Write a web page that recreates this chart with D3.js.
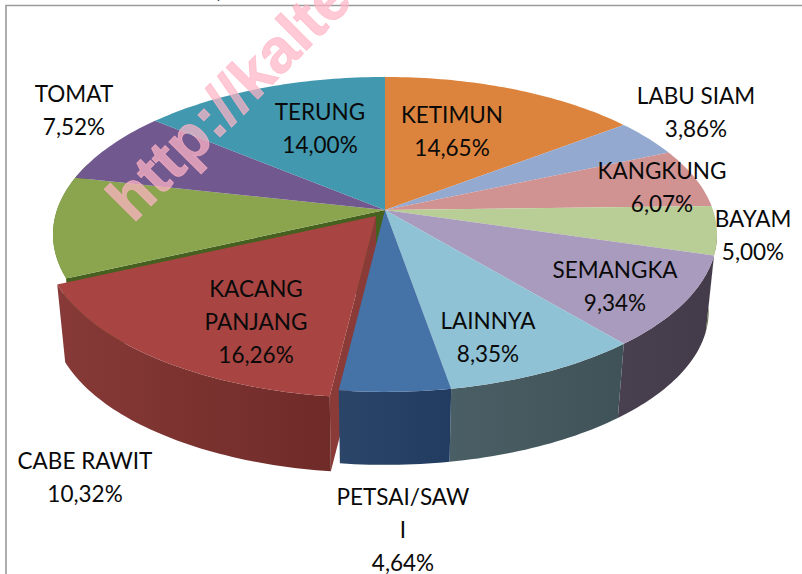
<!DOCTYPE html>
<html>
<head>
<meta charset="utf-8">
<script src="https://cdn.jsdelivr.net/npm/d3@7"></script>
<style>
  html, body { margin: 0; padding: 0; background: #fff; overflow: hidden; }
  svg { display: block; }
  .lbl { font-family: Lato, sans-serif; font-size: 22.5px; fill: #0a0a0a; text-anchor: middle; }
</style>
</head>
<body>
<div id="chart"></div>
<script>
var categories = ["KETIMUN", "LABU SIAM", "KANGKUNG", "BAYAM", "SEMANGKA", "LAINNYA", "PETSAI/SAW\nI", "KACANG\nPANJANG", "CABE RAWIT", "TOMAT", "TERUNG"];
var shares = [14.65, 3.86, 6.07, 5.00, 9.34, 8.35, 4.64, 16.26, 10.32, 7.52, 14.00];
var topColors = ["#dc843d", "#93a9cf", "#d19392", "#b9cd96", "#a99bbd", "#8fc2d5", "#4572a7", "#a84543", "#8aa54e", "#71588f", "#4198af"];
var wallColors = [["#a5632e", "#a5632e"], ["#6e7f9b", "#6e7f9b"], ["#9d6e6d", "#9d6e6d"], ["#6b7a52", "#5c6a46"], ["#48404f", "#433b49"], ["#4a5f65", "#3f5258"], ["#2b4569", "#213c60"], ["#873a37", "#6f2b28"], ["#5e7a2c", "#5e7a2c"], ["#54426b", "#54426b"], ["#307183", "#307183"]];
// label centre x and first baseline, same order as categories
var labelX = [452, 696, 662, 753, 615, 488, 403, 256, 85, 74, 320];
var labelY = [123, 104, 179, 227, 278, 329, 505, 297, 469, 102, 120];

var width = 802, height = 574;
var cx = 385, cy = 210, radiusX = 328, radiusY = 153.7, persp = 0.155;
var depth = 77.5, shrink = 0.975;
var burstIndex = 7, burst = [-9, 6], burstLowY = 2;
var lineGap = 33;

var svg = d3.select("#chart").append("svg")
    .attr("width", width)
    .attr("height", height);
var defs = svg.append("defs");

// frame, runs off the right and bottom of the picture
svg.append("path")
    .attr("d", "M6," + height + "V5.5H" + width)
    .attr("fill", "none")
    .attr("stroke", "#9a9a9a")
    .attr("stroke-width", 1.6);

// clipped bit of the title above the frame
svg.append("text").attr("class", "lbl").attr("x", 219).attr("y", -2).text(",");

var arcs = d3.pie().sort(null).value(d => d)(shares);

// perspective: the circle's near half is drawn bigger than the far half
function rim(t, low, off) {
    var u = Math.sin(t), v = -Math.cos(t);
    var s = 1 / (1 - persp * v) * (low ? shrink : 1);
    return [cx + radiusX * u * s + off[0], cy + (low ? depth + off[2] : 0) + radiusY * v * s + off[1]];
}
function apex(low, off) {
    return [cx + off[0], cy + (low ? depth + off[2] : 0) + off[1]];
}
function rimPoints(a, b, low, off) {
    var n = Math.max(2, Math.ceil((b - a) / 0.02));
    return d3.range(n + 1).map(i => rim(a + (b - a) * i / n, low, off));
}
var line = d3.line();
function offsetOf(i) { return i === burstIndex ? [burst[0], burst[1], burstLowY] : [0, 0, 0]; }

function topPath(d) {
    var off = offsetOf(d.index);
    return line([apex(false, off)].concat(rimPoints(d.startAngle, d.endAngle, false, off))) + "Z";
}
function wallPath(d, a, b) {
    var off = offsetOf(d.index);
    return line(rimPoints(a, b, false, off).concat(rimPoints(a, b, true, off).reverse())) + "Z";
}
function facePath(d, t) {
    var off = offsetOf(d.index);
    return line([apex(false, off), rim(t, false, off), rim(t, true, off), apex(true, off)]) + "Z";
}

function wallFill(d) {
    var id = "wall" + d.index;
    var off = offsetOf(d.index);
    var xs = rimPoints(d.startAngle, d.endAngle, false, off).map(p => p[0]);
    var g = defs.append("linearGradient")
        .attr("id", id)
        .attr("gradientUnits", "userSpaceOnUse")
        .attr("x1", d3.min(xs)).attr("x2", d3.max(xs))
        .attr("y1", 0).attr("y2", 0);
    var pair = wallColors[d.index];
    g.append("stop").attr("offset", 0).attr("stop-color", pair[0]);
    g.append("stop").attr("offset", 1).attr("stop-color", pair[1]);
    return "url(#" + id + ")";
}

var pie3d = svg.append("g");

// green slice: its wall and the cut face left open by the pulled out slice
var green = arcs[8];
pie3d.append("path").attr("d", wallPath(green, green.startAngle, Math.PI * 1.6)).attr("fill", wallColors[8][0]);
pie3d.append("path").attr("d", facePath(green, green.startAngle)).attr("fill", "#46601f");

// pulled out slice
var red = arcs[burstIndex];
pie3d.append("path").attr("d", facePath(red, red.startAngle)).attr("fill", "#8a3a37");
pie3d.append("path").attr("d", wallPath(red, red.startAngle, red.endAngle)).attr("fill", wallFill(red));

// front walls on the right, far ones first
arcs.filter(d => d.index >= 3 && d.index <= 6).forEach(function(d) {
    pie3d.append("path")
        .attr("d", wallPath(d, Math.max(d.startAngle, Math.PI * 0.54), d.endAngle))
        .attr("fill", wallFill(d));
});

pie3d.selectAll(".slice")
    .data(arcs)
    .enter()
    .append("path")
    .attr("class", "slice")
    .attr("d", topPath)
    .attr("fill", d => topColors[d.index]);

// watermark
svg.append("text")
    .attr("transform", "translate(133,224) rotate(-45)")
    .attr("font-family", "'Liberation Sans', sans-serif")
    .attr("font-weight", "bold")
    .attr("font-size", 62)
    .attr("fill", "#ffb4c6")
    .attr("fill-opacity", 0.72)
    .attr("stroke", "#ffb4c6")
    .attr("stroke-opacity", 0.72)
    .attr("stroke-width", 0.8)
    .attr("paint-order", "stroke")
    .text("http://kalte");

var pct = d3.formatLocale({ decimal: ",", thousands: ".", grouping: [3], currency: ["", ""] }).format(".2f");

var labels = svg.selectAll(".label")
    .data(categories)
    .enter()
    .append("text")
    .attr("class", "lbl label");

labels.each(function(name, i) {
    var rows = name.split("\n").concat(pct(shares[i]) + "%");
    d3.select(this).selectAll("tspan")
        .data(rows)
        .enter()
        .append("tspan")
        .attr("x", labelX[i])
        .attr("y", (r, j) => labelY[i] + j * lineGap)
        .text(r => r);
});
</script>
</body>
</html>
